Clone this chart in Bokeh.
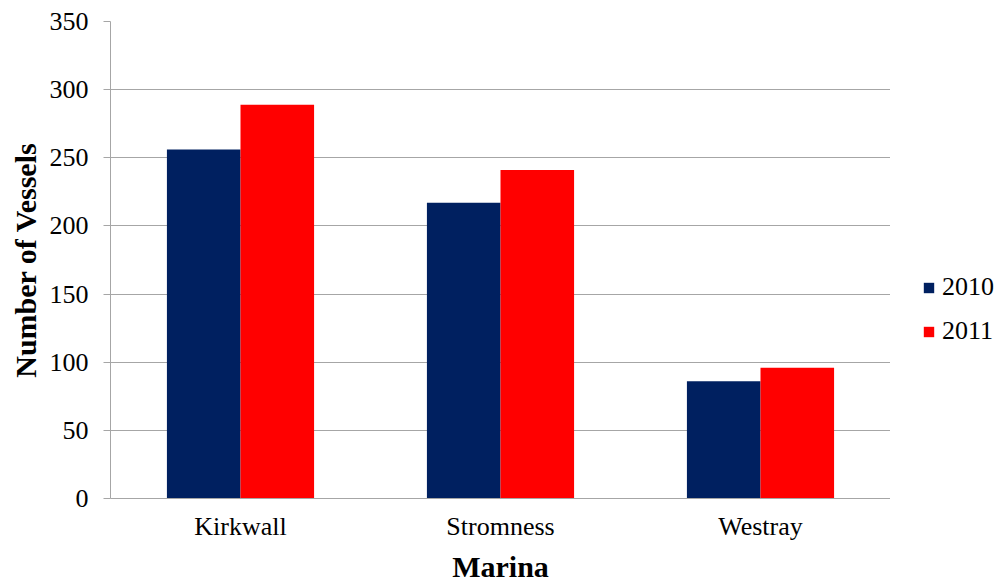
from bokeh.plotting import figure
from bokeh.layouts import row
from bokeh.models import ColumnDataSource, FactorRange, Range1d, Legend, LegendItem, SingleIntervalTicker
from bokeh.transform import dodge
from bokeh.embed import file_html
from bokeh.resources import INLINE

marinas = ["Kirkwall", "Stromness", "Westray"]
vessels_2010 = [256, 217, 86]
vessels_2011 = [289, 241, 96]
series_names = ["2010", "2011"]
colors = ["#002060", "#FF0000"]

src = ColumnDataSource(dict(marina=marinas, v2010=vessels_2010, v2011=vessels_2011))

p = figure(width=890, height=585, x_range=FactorRange(*marinas, range_padding=0),
           y_range=Range1d(0, 350), output_backend="svg", toolbar_location=None,
           min_border_left=110, min_border_right=0, min_border_top=21, min_border_bottom=87)
p.x_range.factor_padding = 0
bw = 0.283
p.vbar(x=dodge("marina", -bw / 2, range=p.x_range), top="v2010", width=bw, source=src,
       fill_color=colors[0], line_color=None)
p.vbar(x=dodge("marina", bw / 2, range=p.x_range), top="v2011", width=bw, source=src,
       fill_color=colors[1], line_color=None)

p.outline_line_color = None
p.background_fill_color = "white"
p.border_fill_color = "white"
p.xgrid.grid_line_color = None
p.ygrid.grid_line_color = "#a6a6a6"
p.ygrid.grid_line_width = 1
p.yaxis.ticker = SingleIntervalTicker(interval=50)
p.yaxis.minor_tick_line_color = None
p.yaxis.major_tick_out = 7
p.yaxis.major_tick_in = 0
p.yaxis.major_tick_line_color = "#a6a6a6"
p.yaxis.axis_line_color = "#a6a6a6"
p.xaxis.axis_line_color = "#a6a6a6"
p.xaxis.major_tick_line_color = None
p.xaxis.major_tick_out = 0
p.xaxis.major_tick_in = 0

font = "Liberation Serif"
for ax in (p.xaxis[0], p.yaxis[0]):
    ax.major_label_text_font = font
    ax.major_label_text_font_size = "26px"
    ax.major_label_text_color = "#000000"
    ax.axis_label_text_font = font
    ax.axis_label_text_font_size = "30px"
    ax.axis_label_text_font_style = "bold"
    ax.axis_label_text_color = "#000000"
p.yaxis.major_label_standoff = 15
p.xaxis.major_label_standoff = 13
p.xaxis.axis_label = "Marina"
p.yaxis.axis_label = "Number of Vessels"
p.xaxis.axis_label_standoff = 6
p.xaxis.axis_label_text_line_height = 1.0
p.yaxis.axis_label_standoff = 5

# legend panel to the right of the plot frame
lg = figure(width=112, height=585, x_range=FactorRange(*series_names), y_range=Range1d(0, 1),
            output_backend="svg", toolbar_location=None,
            min_border_left=0, min_border_right=0, min_border_top=0, min_border_bottom=0)
lg.axis.visible = False
lg.grid.visible = False
lg.outline_line_color = None
lg.background_fill_color = "white"
lg.border_fill_color = "white"
key_src = ColumnDataSource(dict(name=series_names, color=colors))
keys = lg.vbar(x="name", top=0, width=0.1, source=key_src, fill_color="color", line_color=None)
legend = Legend(items=[LegendItem(label=series_names[i], renderers=[keys], index=i)
                       for i in range(len(series_names))],
                location=(32, 152), border_line_color=None, background_fill_alpha=0,
                glyph_width=13, glyph_height=13,
                spacing=14, label_standoff=7, padding=0, margin=0,
                label_text_font="'Liberation Serif', serif", label_text_font_size="26px",
                label_text_color="#000000")
lg.add_layout(legend, "center")

layout = row(p, lg, spacing=0)
open("out.html", "w").write(file_html(layout, INLINE))
